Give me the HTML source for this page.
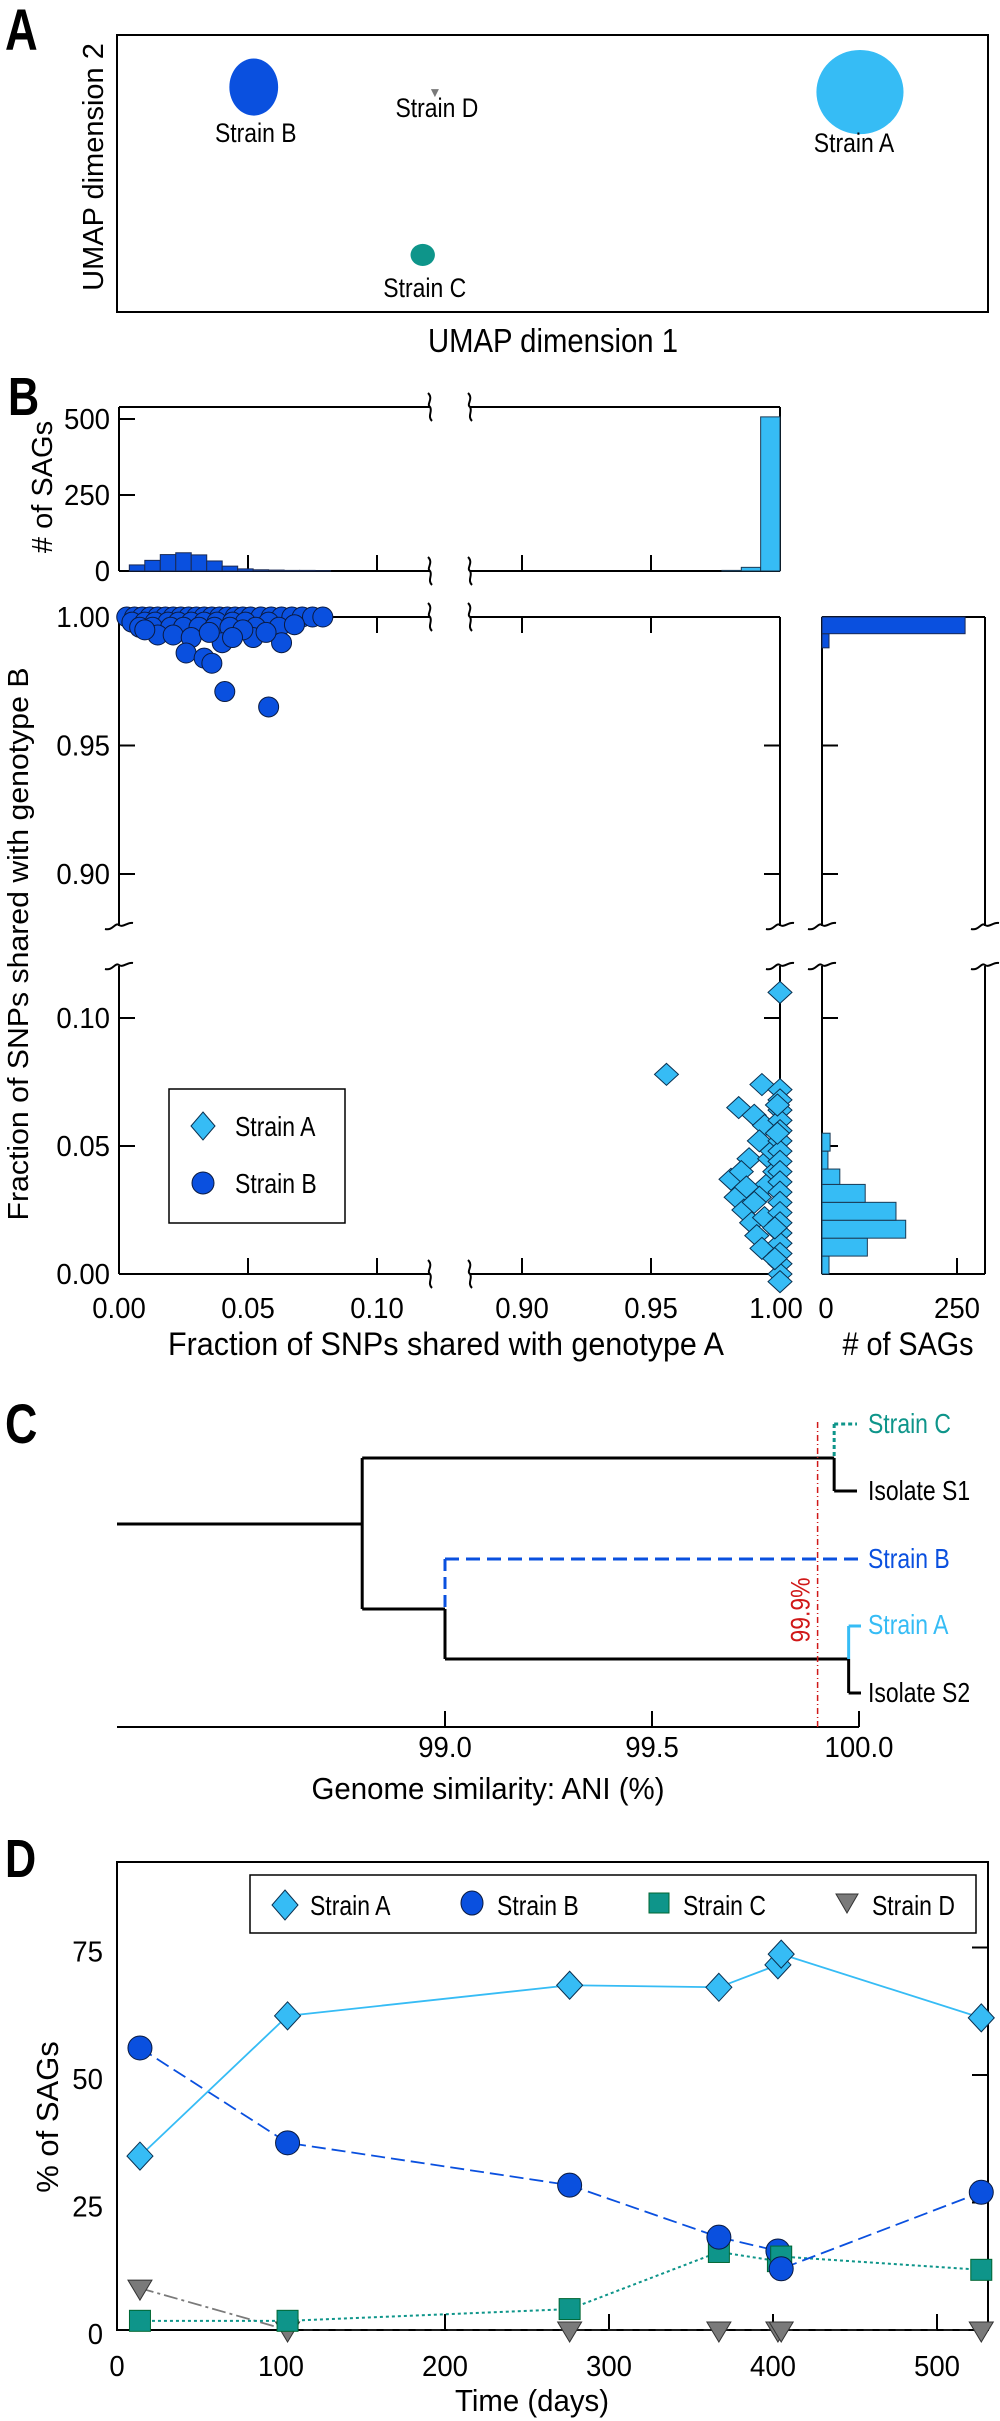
<!DOCTYPE html>
<html><head><meta charset="utf-8">
<style>
html,body{margin:0;padding:0;background:#fff;}
svg{display:block;font-family:"Liberation Sans",Arial,sans-serif;}
</style></head>
<body>
<svg id="s" width="1000" height="2421" viewBox="0 0 1000 2421" xmlns="http://www.w3.org/2000/svg"></svg>
<script>
// ---------- DATA ----------
// Panel A (UMAP, arbitrary units 0-10)
const umapNames=['Strain B','Strain D','Strain A','Strain C'];
const umapX=[1.57,3.65,8.53,3.51];
const umapY=[8.12,7.9,7.94,2.06];
const umapRx=[0.28,0.05,0.5,0.14];
const umapRy=[1.03,0.25,1.52,0.4];
// Panel B histograms
const histBEdges=[0.004,0.010,0.016,0.022,0.028,0.034,0.040,0.046,0.052,0.058,0.064,0.070,0.076,0.082];
const histBCounts=[20,35,54,60,53,33,16,7,4,3,2,2,1];
const histAEdges=[0.9775,0.985,0.9925,1.0];
const histACounts=[2,12,507];
const rhB_Edges=[0.988,0.9935,1.0];
const rhB_Counts=[13,265];
const rhA_Edges=[0.0,0.007,0.014,0.021,0.028,0.035,0.041,0.048,0.055];
const rhA_Counts=[13,84,155,137,80,33,11,15];
// Panel B scatter
const sbX=[0.003,0.006,0.009,0.012,0.015,0.018,0.021,0.024,0.027,0.030,0.033,0.036,0.039,0.042,0.045,0.048,0.051,0.055,0.059,0.063,0.067,0.071,0.075,0.079,
0.005,0.010,0.014,0.019,0.023,0.028,0.033,0.038,0.044,0.049,0.058,
0.008,0.013,0.020,0.025,0.031,0.037,0.043,0.053,0.062,
0.015,0.021,0.028,0.026,0.033,0.036,0.040,0.041,0.058,0.052,0.063,0.057,0.048,0.010,0.035,0.044,0.068];
const sbY=[1,1,1,1,1,1,1,1,1,1,1,1,1,1,1,1,1,1,1,1,1,1,1,1,
0.998,0.998,0.998,0.998,0.998,0.998,0.998,0.998,0.998,0.998,0.998,
0.996,0.996,0.996,0.996,0.996,0.996,0.996,0.996,0.996,
0.993,0.993,0.992,0.986,0.984,0.982,0.990,0.971,0.965,0.992,0.990,0.994,0.995,0.995,0.994,0.992,0.997];
const saX=[0.956,0.984,0.993,1.0,0.981,0.990,0.994,0.992,0.988,0.985,0.983,0.986,0.989,0.991,0.993,0.995,0.992,0.994,0.990,0.987,0.996,0.997,0.998,
1,1,1,1,1,1,1,1,1,1,1,1,1,1,1,1,1,1,1,1,0.999,0.999,0.998,0.998];
const saY=[0.078,0.065,0.074,0.110,0.037,0.062,0.058,0.052,0.045,0.040,0.030,0.025,0.020,0.015,0.010,0.035,0.030,0.022,0.028,0.034,0.045,0.048,0.040,
0.072,0.068,0.064,0.060,0.056,0.052,0.048,0.044,0.040,0.036,0.032,0.028,0.024,0.020,0.016,0.012,0.008,0.004,0.000,-0.003,0.066,0.055,0.018,0.006];
// Panel B ticks
const bxLeftTicks=[0.00,0.05,0.10];
const bxRightTicks=[0.90,0.95,1.00];
const byUpperTicks=[1.00,0.95,0.90];
const byLowerTicks=[0.10,0.05,0.00];
const histTicks=[0,250,500];
// Panel C
const aniTicks=[99.0,99.5,100.0];
const rootNode=98.80, nodeS1=99.94, nodeB=99.0, nodeS2=99.975, threshold=99.9;
// Panel D
const days=[14,104,276,367,403,405,527];
const pctA=[34.1,61.6,67.6,67.2,71.6,73.7,61.2];
const pctB=[55.3,36.7,28.4,18.2,15.5,12.0,27.0];
const pctC=[1.8,1.8,4.1,15.3,13.5,14.4,11.8];
const pctD=[8.2,0,0,0,0,0,0];
const dayTicks=[0,100,200,300,400,500];
const pctTicks=[0,25,50,75];

// ---------- HELPERS ----------
const NS='http://www.w3.org/2000/svg';
const svg=document.getElementById('s');
const LB='#36bcf5', DB='#0a50df', TE='#0e958a', GR='#7a7a7a';
function mk(tag,attrs,parent){const e=document.createElementNS(NS,tag);for(const k in attrs)e.setAttribute(k,attrs[k]);(parent||svg).appendChild(e);return e;}
function tx(str,x,y,size,anchor,extra){const e=mk('text',Object.assign({x:x,y:y,'font-size':size,'text-anchor':anchor||'middle',fill:'#000'},extra||{}));e.textContent=str;return e;}
function diamond(cx,cy,hw,hh){return `M${cx},${cy-hh}L${cx+hw},${cy}L${cx},${cy+hh}L${cx-hw},${cy}Z`;}
function squig(x,y,vertical){
  if(vertical){return `M${x-14},${y+3} C${x-6},${y+5} ${x-4},${y-4} ${x},${y-1} C${x+4},${y+2} ${x+8},${y-4} ${x+14},${y-3}`;}
  return `M${x-2},${y-14} C${x+4},${y-8} ${x-4},${y-3} ${x},${y} C${x+3},${y+4} ${x-3},${y+9} ${x+2},${y+14}`;
}
const condensed=[];
const TF=0.95;

// ---------- PANEL A ----------
const ax=v=>117+v*87.1, ay=v=>312-v*27.7;
let e=tx('A',5,50,58,'start',{'font-weight':'bold'});


condensed.push([e,0.78]);
e=mk('rect',{x:117,y:35,width:871,height:277,fill:'none',stroke:'#000','stroke-width':2});


const umapCol=[DB,GR,LB,TE];
const labelDy=[55,24,60,42];
for(let i=0;i<umapNames.length;i++){
  if(i===1){
    e=mk('path',{d:`M${ax(umapX[i])-4},${ay(umapY[i])-4}L${ax(umapX[i])+4},${ay(umapY[i])-4}L${ax(umapX[i])},${ay(umapY[i])+4}Z`,fill:GR});
  } else {
    e=mk('ellipse',{cx:ax(umapX[i]),cy:ay(umapY[i]),rx:umapRx[i]*87.1,ry:umapRy[i]*27.7,fill:umapCol[i]});
  }
  
  
  e=tx(umapNames[i],ax(umapX[i])+ (i===2?-6:2),ay(umapY[i])+labelDy[i],27);
  
  
  condensed.push([e,0.85]);
}
e=tx('UMAP dimension 1',553,352,33,'middle',{textLength:250,lengthAdjust:'spacingAndGlyphs'});


e=tx('UMAP dimension 2',0,0,29,'middle',{transform:'translate(103,167) rotate(-90)'});



// ---------- PANEL B ----------
const xL=v=>119+v/0.05*129, xR=v=>780-(1-v)/0.05*129;
const yU=v=>617+(1-v)/0.05*128.5, yLo=v=>1274-v/0.05*128;
const yH=c=>571-c*0.304, xH=c=>822+c*0.54;
e=tx('B',8,415,54,'start',{'font-weight':'bold'});


condensed.push([e,0.8]);
const ST={fill:'none',stroke:'#000','stroke-width':2};
function ln(x1,y1,x2,y2,w){return mk('line',{x1:x1,y1:y1,x2:x2,y2:y2,stroke:'#000','stroke-width':w||2});}
const frameSegs=[
 [119,407,430,407],[470,407,780,407],[119,571,430,571],[470,571,780,571],[119,407,119,571],[780,407,780,571],
 [119,617,430,617],[470,617,780,617],[119,617,119,926],[780,617,780,926],
 [119,966,119,1274],[780,966,780,1274],[119,1274,430,1274],[470,1274,780,1274],
 [822,617,985,617],[822,617,822,926],[985,617,985,926],[822,966,822,1274],[985,966,985,1274],[822,1274,985,1274]];
for(const s of frameSegs){
  e=ln(s[0],s[1],s[2],s[3]);
  
  
}
const hBreaks=[[430,407],[470,407],[430,571],[470,571],[430,617],[470,617],[430,1274],[470,1274]];
for(const b of hBreaks){
  e=mk('path',Object.assign({d:squig(b[0],b[1],false)},ST));
  
  
}
const vBreaks=[[119,926],[119,966],[780,926],[780,966],[822,926],[822,966],[985,926],[985,966]];
for(const b of vBreaks){
  e=mk('path',Object.assign({d:squig(b[0],b[1],true)},ST));
  
  
}
const xTickPos=[xL(0.05),xL(0.10),xR(0.90),xR(0.95)];
for(const x of xTickPos){
  for(const [y0,dir] of [[571,-1],[617,1],[1274,-1]]){
    e=ln(x,y0,x,y0+dir*16);
    
    
  }
}
for(const c of [250,500]){
  e=ln(119,yH(c),135,yH(c));
  
  
}
for(const c of histTicks){
  e=tx(String(c),110,yH(c)+10,29,'end');
  
  
  condensed.push([e,TF]);
}
for(const v of [0.95,0.90]){
  for(const [x0,d] of [[119,1],[780,-1],[822,1]]){
    e=ln(x0,yU(v),x0+d*16,yU(v));
    
    
  }
}
for(const v of [0.10,0.05]){
  for(const [x0,d] of [[119,1],[780,-1],[822,1]]){
    e=ln(x0,yLo(v),x0+d*16,yLo(v));
    
    
  }
}
e=ln(xH(250),1274,xH(250),1258);


for(const v of byUpperTicks){
  e=tx(v.toFixed(2),110,yU(v)+10,29,'end');
  
  
  condensed.push([e,TF]);
}
for(const v of byLowerTicks){
  e=tx(v.toFixed(2),110,yLo(v)+10,29,'end');
  
  
  condensed.push([e,TF]);
}
for(const v of bxLeftTicks){
  e=tx(v.toFixed(2),xL(v),1318,29);
  
  
  condensed.push([e,TF]);
}
for(const v of bxRightTicks){
  e=tx(v.toFixed(2),xR(v)-(v===1?4:0),1318,29);
  
  
  condensed.push([e,TF]);
}
for(const c of [0,250]){
  e=tx(String(c),xH(c)+(c===0?4:0),1318,29);
  
  
  condensed.push([e,TF]);
}
for(let i=0;i<histBCounts.length;i++){
  e=mk('rect',{x:xL(histBEdges[i]),y:yH(histBCounts[i]),width:xL(histBEdges[i+1])-xL(histBEdges[i]),height:571-yH(histBCounts[i]),fill:DB,stroke:'#1a2a55','stroke-width':1});
  
  
}
for(let i=0;i<histACounts.length;i++){
  e=mk('rect',{x:xR(histAEdges[i]),y:yH(histACounts[i]),width:xR(histAEdges[i+1])-xR(histAEdges[i]),height:571-yH(histACounts[i]),fill:LB,stroke:'#1a3a55','stroke-width':1});
  
  
}
for(let i=0;i<rhB_Counts.length;i++){
  e=mk('rect',{x:822,y:yU(rhB_Edges[i+1]),width:xH(rhB_Counts[i])-822,height:yU(rhB_Edges[i])-yU(rhB_Edges[i+1]),fill:DB,stroke:'#1a2a55','stroke-width':1});
  
  
}
for(let i=0;i<rhA_Counts.length;i++){
  e=mk('rect',{x:822,y:yLo(rhA_Edges[i+1]),width:xH(rhA_Counts[i])-822,height:yLo(rhA_Edges[i])-yLo(rhA_Edges[i+1]),fill:LB,stroke:'#1a3a55','stroke-width':1});
  
  
}
for(let i=0;i<sbX.length;i++){
  e=mk('circle',{cx:xL(sbX[i]),cy:yU(sbY[i]),r:10,fill:DB,stroke:'#0a1a40','stroke-width':1});
  
  
}
for(let i=0;i<saX.length;i++){
  e=mk('path',{d:diamond(xR(saX[i]),yLo(saY[i]),12,11),fill:LB,stroke:'#0a3050','stroke-width':1});
  
  
}
e=mk('rect',{x:169,y:1089,width:176,height:134,fill:'#fff',stroke:'#000','stroke-width':1.5});


e=mk('path',{d:diamond(203,1126,12,14),fill:LB,stroke:'#0a3050','stroke-width':1});


e=tx('Strain A',235,1136,28,'start');


condensed.push([e,0.82]);
e=mk('circle',{cx:203,cy:1183,r:11,fill:DB,stroke:'#0a1a40','stroke-width':1});


e=tx('Strain B',235,1193,28,'start');


condensed.push([e,0.82]);
e=tx('# of SAGs',0,0,29,'middle',{transform:'translate(52,487) rotate(-90)'});


e=tx('Fraction of SNPs shared with genotype B',0,0,29,'middle',{transform:'translate(28,944) rotate(-90)',textLength:553,lengthAdjust:'spacingAndGlyphs'});


e=tx('Fraction of SNPs shared with genotype A',446,1355,32,'middle',{textLength:556,lengthAdjust:'spacingAndGlyphs'});


e=tx('# of SAGs',908,1355,32,'middle',{textLength:131,lengthAdjust:'spacingAndGlyphs'});



// ---------- PANEL C ----------
const cx=v=>859-(100-v)*414;
e=tx('C',5,1443,56,'start',{'font-weight':'bold'});


condensed.push([e,0.8]);
e=ln(117,1727,cx(100),1727);


for(const v of aniTicks){
  e=ln(cx(v),1727,cx(v),1711);
  
  
  e=tx(v.toFixed(1),cx(v),1757,29);
  
  
  condensed.push([e,TF]);
}
e=tx('Genome similarity: ANI (%)',488,1799,31,'middle',{textLength:353,lengthAdjust:'spacingAndGlyphs'});


const TW=3;
function tl(x1,y1,x2,y2,col,dash){const l=mk('line',{x1:x1,y1:y1,x2:x2,y2:y2,stroke:col,'stroke-width':TW});if(dash)l.setAttribute('stroke-dasharray',dash);return l;}
const treeSegs=[
 [117,1524,cx(rootNode),1524,'#000',null,'tree-root-branch'],
 [cx(rootNode),1458,cx(rootNode),1609,'#000',null,'tree-root-node'],
 [cx(rootNode),1458,cx(nodeS1),1458,'#000',null,'tree-branch-s1-clade'],
 [cx(nodeS1),1458,cx(nodeS1),1491,'#000',null,'tree-node-s1'],
 [cx(nodeS1),1491,cx(100)-2,1491,'#000',null,'tree-leaf-isolate-s1'],
 [cx(nodeS1),1424,cx(nodeS1),1458,TE,'4 3','tree-node-strain-c'],
 [cx(nodeS1),1424,cx(100)-2,1424,TE,'4 3','tree-leaf-strain-c'],
 [cx(rootNode),1609,cx(nodeB),1609,'#000',null,'tree-branch-b-clade'],
 [cx(nodeB),1559,cx(nodeB),1609,DB,'12 6','tree-node-strain-b'],
 [cx(nodeB),1559,cx(100),1559,DB,'14 7','tree-leaf-strain-b'],
 [cx(nodeB),1609,cx(nodeB),1659,'#000',null,'tree-node-b'],
 [cx(nodeB),1659,cx(nodeS2),1659,'#000',null,'tree-branch-s2-clade'],
 [cx(nodeS2),1626,cx(nodeS2),1659,LB,null,'tree-node-strain-a'],
 [cx(nodeS2),1626,cx(100)+2,1626,LB,null,'tree-leaf-strain-a'],
 [cx(nodeS2),1659,cx(nodeS2),1693,'#000',null,'tree-node-s2'],
 [cx(nodeS2),1693,cx(100)+2,1693,'#000',null,'tree-leaf-isolate-s2']];
for(const s of treeSegs){
  e=tl(s[0],s[1],s[2],s[3],s[4],s[5]);
  
  
}
e=mk('line',{x1:cx(threshold),y1:1422,x2:cx(threshold),y2:1727,stroke:'#d01818','stroke-width':1.5,'stroke-dasharray':'6 3 1 3'});


e=tx('99.9%',0,0,27,'middle',{fill:'#d01818',transform:`translate(${cx(threshold)-8},1610) rotate(-90)`});


condensed.push([e,0.85]);
const leafLabels=[['Strain C',1433,TE],['Isolate S1',1500,'#000'],['Strain B',1568,DB],['Strain A',1634,LB],['Isolate S2',1702,'#000']];
for(const L of leafLabels){
  e=tx(L[0],868,L[1],28,'start',{fill:L[2]});
  
  
  condensed.push([e,0.82]);
}

// ---------- PANEL D ----------
const dx=d=>117+d*1.64, dy=v=>2330-v*5.1;
e=tx('D',5,1877,54,'start',{'font-weight':'bold'});


condensed.push([e,0.8]);
e=mk('rect',{x:117,y:1862,width:871,height:468,fill:'none',stroke:'#000','stroke-width':2});


for(const d of dayTicks){
  if(d>0){
    e=ln(dx(d),2330,dx(d),2314);
    
    
  }
  e=tx(String(d),dx(d),2376,29);
  
  
  condensed.push([e,TF]);
}
for(const v of pctTicks){
  if(v>0){
    e=ln(988,dy(v),972,dy(v));
    
    
  }
  e=tx(String(v),103,dy(v)+14,29,'end');
  
  
  condensed.push([e,TF]);
}
e=tx('Time (days)',532,2411,31,'middle',{textLength:154,lengthAdjust:'spacingAndGlyphs'});


e=tx('% of SAGs',0,0,31,'middle',{transform:'translate(58,2117) rotate(-90)'});


function pts(arr,from,to){let s='';for(let i=from;i<=to;i++)s+=(i===from?'M':'L')+dx(days[i])+','+dy(arr[i]);return s;}
e=mk('path',{d:pts(pctD,1,days.length-1),fill:'none',stroke:'#222','stroke-width':1.5,'stroke-dasharray':'9 7'});


e=mk('path',{d:pts(pctD,0,1),fill:'none',stroke:GR,'stroke-width':1.8,'stroke-dasharray':'14 4 3 4'});


e=mk('path',{d:pts(pctC,0,days.length-1),fill:'none',stroke:TE,'stroke-width':2,'stroke-dasharray':'3 3'});


e=mk('path',{d:pts(pctB,0,days.length-1),fill:'none',stroke:DB,'stroke-width':1.8,'stroke-dasharray':'14 6'});


e=mk('path',{d:pts(pctA,0,days.length-1),fill:'none',stroke:LB,'stroke-width':1.8});


for(let i=0;i<days.length;i++){
  e=mk('path',{d:`M${dx(days[i])-12},${dy(pctD[i])-8}L${dx(days[i])+12},${dy(pctD[i])-8}L${dx(days[i])},${dy(pctD[i])+12}Z`,fill:GR,stroke:'#333','stroke-width':1});
  
  
  e=mk('rect',{x:dx(days[i])-10.5,y:dy(pctC[i])-10.5,width:21,height:21,fill:TE,stroke:'#063','stroke-width':1});
  
  
  e=mk('ellipse',{cx:dx(days[i]),cy:dy(pctB[i]),rx:12,ry:12,fill:DB,stroke:'#0a1a40','stroke-width':1});
  
  
  e=mk('path',{d:diamond(dx(days[i]),dy(pctA[i]),13,14),fill:LB,stroke:'#0a3050','stroke-width':1});
  
  
}
e=mk('rect',{x:250,y:1875,width:726,height:58,fill:'#fff',stroke:'#000','stroke-width':1.5});


e=mk('path',{d:diamond(285,1905,13,15),fill:LB,stroke:'#0a3050','stroke-width':1});


e=mk('ellipse',{cx:472,cy:1903,rx:11,ry:12,fill:DB,stroke:'#0a1a40','stroke-width':1});


e=mk('rect',{x:649,y:1893,width:20,height:20,fill:TE,stroke:'#063','stroke-width':1});


e=mk('path',{d:'M836,1894L858,1894L847,1913Z',fill:GR,stroke:'#333','stroke-width':1});


const legD=[['Strain A',310],['Strain B',497],['Strain C',683],['Strain D',872]];
for(const L of legD){
  e=tx(L[0],L[1],1915,28,'start');
  
  
  condensed.push([e,0.82]);
}

for(const [t,f] of condensed){
  const w=t.getComputedTextLength();
  t.setAttribute('textLength',(w*f).toFixed(1));
  t.setAttribute('lengthAdjust','spacingAndGlyphs');
}
</script>
</body></html>
